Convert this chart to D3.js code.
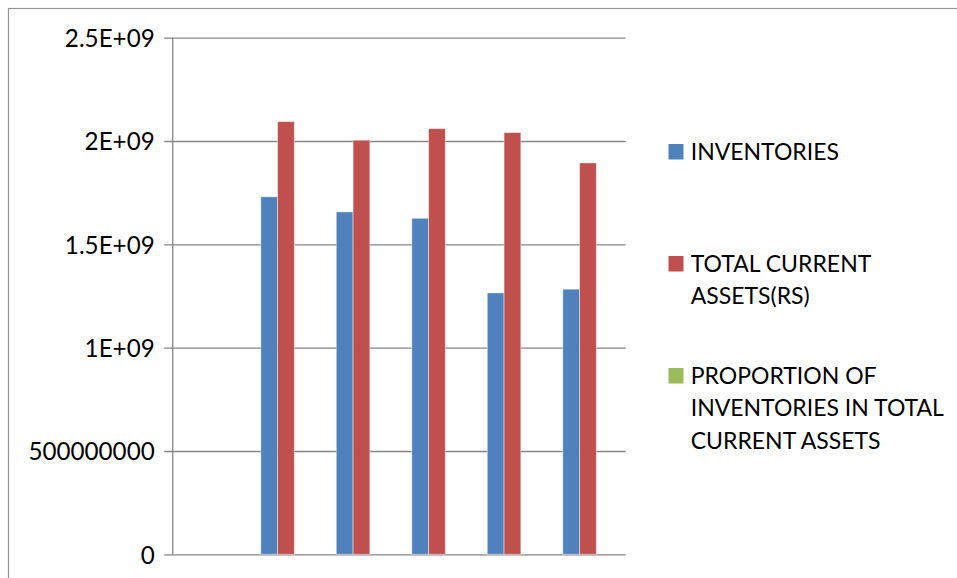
<!DOCTYPE html>
<html>
<head>
<meta charset="utf-8">
<script src="https://cdn.jsdelivr.net/npm/d3@7"></script>
<style>
  html, body { margin: 0; padding: 0; background: #ffffff; }
  svg { display: block; }
  text { font-family: Lato, "Open Sans", sans-serif; fill: #000; }
</style>
</head>
<body>
<svg id="chart" width="957" height="578"></svg>
<script>
// Category slots along the x axis (the first slot has no data)
const categories = ["P0", "P1", "P2", "P3", "P4", "P5"];

// Series values per category
const inventories = [null, 1.73e9, 1.657e9, 1.626e9, 1.265e9, 1.283e9];
const totalCurrentAssets = [null, 2.094e9, 2.004e9, 2.06e9, 2.041e9, 1.894e9];
const proportion = [null, 0.83, 0.83, 0.79, 0.62, 0.68];

const seriesNames = [
  "INVENTORIES",
  "TOTAL CURRENT ASSETS(RS)",
  "PROPORTION OF INVENTORIES IN TOTAL CURRENT ASSETS"
];
// Legend text as it wraps
const legendLines = [
  ["INVENTORIES"],
  ["TOTAL CURRENT", "ASSETS(RS)"],
  ["PROPORTION OF", "INVENTORIES IN TOTAL", "CURRENT ASSETS"]
];

// Y axis ticks and their labels
const yTicks = [0, 5e8, 1e9, 1.5e9, 2e9, 2.5e9];
const yTickLabels = ["0", "500000000", "1E+09", "1.5E+09", "2E+09", "2.5E+09"];

const colors = ["#4F81BD", "#C0504D", "#9BBB59"];
const seriesValues = [inventories, totalCurrentAssets, proportion];

const svg = d3.select("#chart");

// Outer chart frame
svg.append("rect")
  .attr("x", 8.5).attr("y", 8.5)
  .attr("width", 1000).attr("height", 1000)
  .attr("fill", "#fff")
  .attr("stroke", "#959595").attr("stroke-width", 1.2);

const plot = { left: 172.7, right: 625.7, top: 37.7, bottom: 554.3 };

const x = d3.scaleBand()
  .domain(categories)
  .range([plot.left, plot.right])
  .paddingInner(0).paddingOuter(0);

const y = d3.scaleLinear()
  .domain([0, 2.5e9])
  .range([plot.bottom, plot.top]);

// Bars take 3 of 4.5 bar-widths in each slot (150% gap)
const barW = x.bandwidth() / 4.5;
const xs = d3.scaleBand()
  .domain(d3.range(seriesNames.length))
  .range([0, barW * 3]);

// Horizontal gridlines with small ticks to the left of the axis
const yAxis = d3.axisLeft(y)
  .tickValues(yTicks)
  .tickSize(-(plot.right - plot.left))
  .tickPadding(18)
  .tickFormat((d, i) => yTickLabels[i]);

const gy = svg.append("g")
  .attr("transform", `translate(${plot.left},0)`)
  .call(yAxis);
gy.select(".domain").remove();
gy.selectAll(".tick line")
  .attr("x1", -8.5)
  .attr("stroke", "#868686")
  .attr("stroke-width", 1.3);
gy.selectAll(".tick text")
  .attr("font-size", 24.2)
  .attr("font-family", "Lato, 'Open Sans', sans-serif")
  .attr("fill", "#000")
  .attr("dy", "0.36em");

// Vertical axis line
svg.append("line")
  .attr("x1", plot.left).attr("x2", plot.left)
  .attr("y1", plot.top).attr("y2", plot.bottom)
  .attr("stroke", "#868686").attr("stroke-width", 1.3);

// Bars
const groupOffset = (x.bandwidth() - barW * 3) / 2;
seriesValues.forEach((vals, si) => {
  svg.append("g")
    .selectAll("rect")
    .data(categories.map((c, i) => ({ c, v: vals[i] })).filter(d => d.v != null))
    .join("rect")
    .attr("x", d => x(d.c) + groupOffset + xs(si))
    .attr("y", d => y(d.v))
    .attr("width", xs.bandwidth())
    .attr("height", d => y(0) - y(d.v))
    .attr("fill", colors[si])
    .attr("stroke", "rgba(255,255,255,0.45)")
    .attr("stroke-width", 1);
});

// Legend
const legendX = 668.5;
const legendTextX = 690.7;
const legendTops = [144, 256, 368];
const lineGap = 32.7;
legendLines.forEach((lines, i) => {
  const g = svg.append("g");
  g.append("rect")
    .attr("x", legendX).attr("y", legendTops[i])
    .attr("width", 15).attr("height", 15.5)
    .attr("fill", colors[i]);
  lines.forEach((t, j) => {
    g.append("text")
      .attr("x", legendTextX)
      .attr("y", legendTops[i] + 15.5 + j * lineGap)
      .attr("font-size", 23)
      .text(t);
  });
});
</script>
</body>
</html>
